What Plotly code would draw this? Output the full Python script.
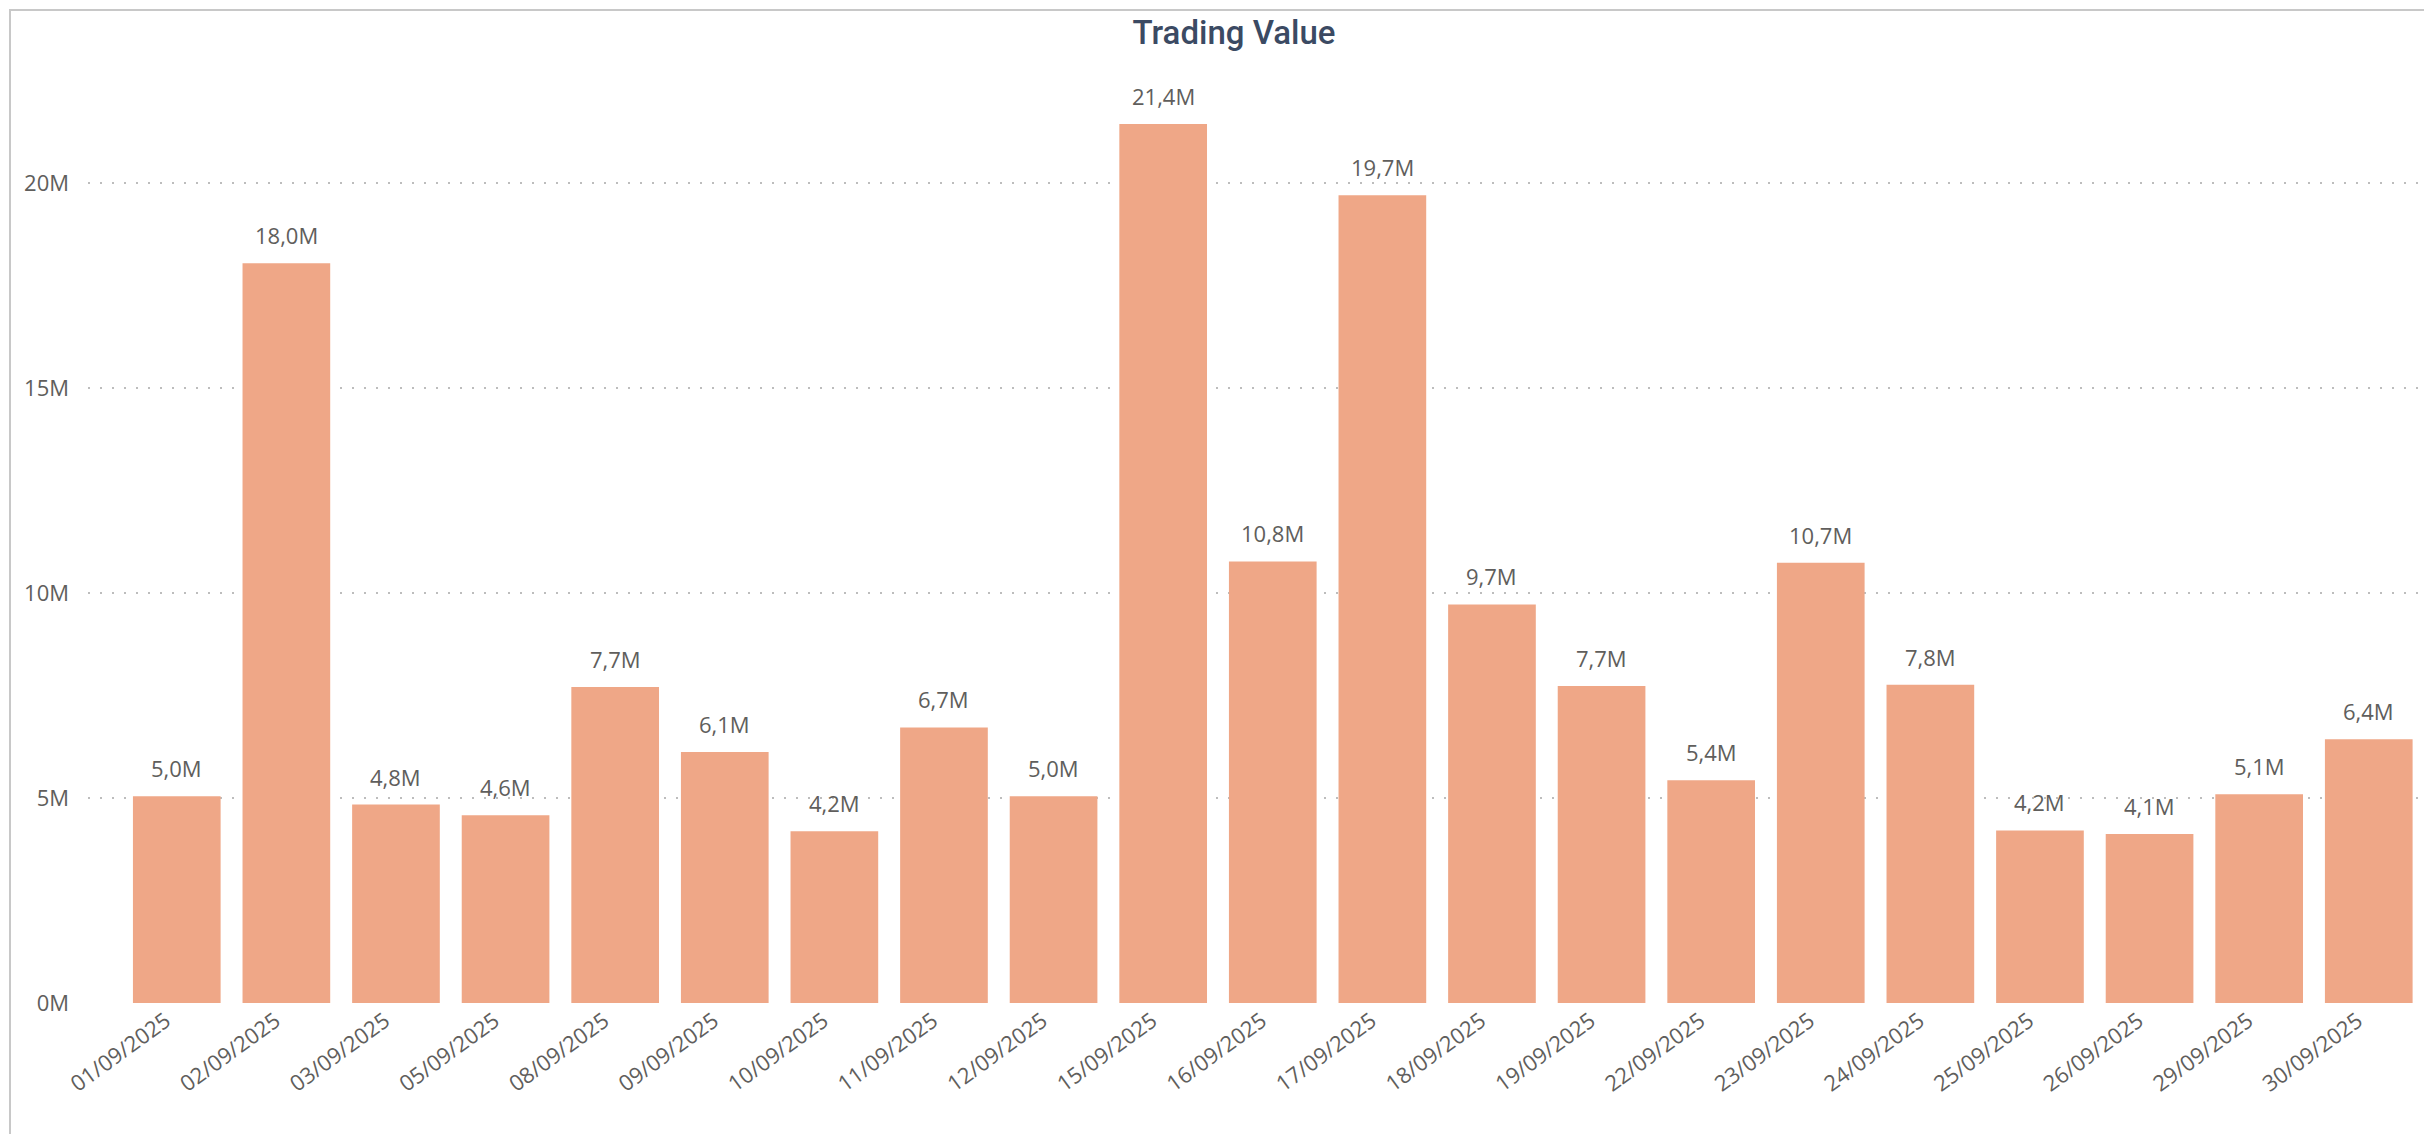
import plotly.graph_objects as go

# Daily trading value, September 2025 (millions)
dates = ['01/09/2025', '02/09/2025', '03/09/2025', '05/09/2025', '08/09/2025',
         '09/09/2025', '10/09/2025', '11/09/2025', '12/09/2025', '15/09/2025',
         '16/09/2025', '17/09/2025', '18/09/2025', '19/09/2025', '22/09/2025',
         '23/09/2025', '24/09/2025', '25/09/2025', '26/09/2025', '29/09/2025',
         '30/09/2025']
values_m = [5.04, 18.04, 4.84, 4.58, 7.71, 6.12, 4.19, 6.72, 5.04, 21.44,
            10.77, 19.70, 9.72, 7.73, 5.43, 10.74, 7.76, 4.21, 4.12, 5.09, 6.43]
y_ticks = [0, 5, 10, 15, 20]
y_tick_text = ['0M', '5M', '10M', '15M', '20M']

BAR_COLOR = '#EFA787'
LABEL_COLOR = '#605E5C'
FONT = 'Open Sans'

W, H = 2432, 1134
OFF = 8  # page body margin
L, R, T, B = 88 - OFF, 0, 60 - OFF, 131 + OFF

fig = go.Figure()
fig.add_trace(go.Bar(
    x=dates, y=values_m,
    marker=dict(color=BAR_COLOR, line=dict(width=0)),
    hoverinfo='x+y'
))

# Data labels above each bar
for d, v in zip(dates, values_m):
    fig.add_annotation(
        x=d, y=v, text=f"{v:.1f}M".replace('.', ','),
        showarrow=False, yanchor='bottom', yshift=11,
        font=dict(family=FONT, size=22, color=LABEL_COLOR)
    )

# Visual border (top/left visible in the capture)
pw, ph = W - L - R, H - T - B
fig.add_shape(
    type='rect', xref='paper', yref='paper',
    x0=(10 - OFF - L) / pw, x1=1.05, y0=-0.3, y1=1 + (T - (10 - OFF)) / ph,
    line=dict(color='#C8C8C8', width=2), fillcolor='rgba(0,0,0,0)', layer='below'
)

fig.update_layout(
    width=W, height=H,
    margin=dict(l=L, r=R, t=T, b=B, autoexpand=False),
    paper_bgcolor='white', plot_bgcolor='white',
    bargap=0.2,
    showlegend=False,
    title=dict(
        text='Trading Value', x=(1234 - OFF) / W, xref='container', xanchor='center',
        y=1 - (32 - OFF) / H, yref='container', yanchor='middle',
        font=dict(family='Roboto', size=33, color='#3B4A63', weight=500)
    ),
    xaxis=dict(
        type='category', range=[-0.81, 20.65],
        tickangle=-36, showgrid=False, zeroline=False, showline=False, ticks='',
        ticklabelshift=-11,
        tickfont=dict(family=FONT, size=22, color=LABEL_COLOR)
    ),
    yaxis=dict(
        range=[0, 23], tickvals=y_ticks, ticktext=y_tick_text,
        showgrid=True, gridcolor='#BDBDBD', gridwidth=1.5, griddash='2px,10px',
        zeroline=False, showline=False, ticks='', ticklabelstandoff=18,
        tickfont=dict(family=FONT, size=22, color=LABEL_COLOR)
    ),
)

fig.write_html("out.html")
